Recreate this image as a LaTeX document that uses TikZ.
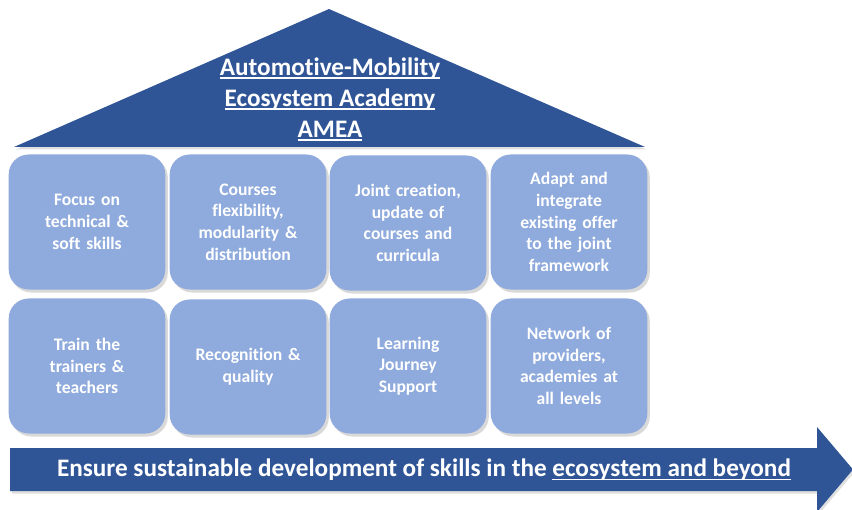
\documentclass[tikz,border=0pt]{standalone}
\usepackage{fontspec}
\setmainfont{Carlito}[Ligatures={NoCommon}]
\usetikzlibrary{shadows}
\definecolor{roofblue}{HTML}{2F5597}
\definecolor{pillarblue}{HTML}{8FAADC}
% underline set a fixed distance under the baseline
\newcommand{\uln}[1]{\setbox0\hbox{#1}\rlap{\rule[-3.5bp]{\wd0}{1.4bp}}\box0}

\begin{document}
\begin{tikzpicture}[x=1bp,y=-1bp]
        \tikzstyle{pillar}=[rectangle,rounded corners=20bp,fill=pillarblue,minimum width=153bp,minimum height=135bp,text width=150bp,align=center,text=white,font=\bfseries\fontsize{17.6bp}{21.7bp}\selectfont,drop shadow={shadow xshift=2.5bp,shadow yshift=-3bp,opacity=0.3}]
        \tikzstyle{banner}=[text=white,font=\bfseries\fontsize{25.2bp}{31bp}\selectfont,align=center]
        \tikzstyle{base}=[fill=roofblue,drop shadow={shadow xshift=1.5bp,shadow yshift=-2.5bp,opacity=0.25}]
        \useasboundingbox (0,0) rectangle (852,510);
        % roof
        \path[base] (14,147) -- (329,9) -- (645,147) -- cycle;
        \node [banner] (title) at (330,99) {\uln{Automotive-Mobility}\\\uln{Ecosystem Academy}\\\uln{AMEA}};
        % pillars, top row
        \node [pillar] (p1) at (87,222) {Focus on\\technical \&\\soft skills};
        \node [pillar] (p2) at (248,222) {Courses\\flexibility,\\modularity \&\\distribution};
        \node [pillar] (p3) at (408,223) {Joint creation,\\update of\\courses and\\curricula};
        \node [pillar] (p4) at (569,222) {Adapt and\\integrate\\existing offer\\to the joint\\framework};
        % pillars, bottom row
        \node [pillar] (p5) at (87,366) {Train the\\trainers \&\\teachers};
        \node [pillar] (p6) at (248,367) {Recognition \&\\quality};
        \node [pillar] (p7) at (408,366) {Learning\\Journey\\Support};
        \node [pillar] (p8) at (569,366) {Network of\\providers,\\academies at\\all levels};
        % ground arrow
        \path[base] (10,448) -- (817,448) -- (817,427) -- (853,469.5) -- (817,512) -- (817,491) -- (10,491) -- cycle;
        \node [banner] (goal) at (424,470) {Ensure sustainable development of skills in the \uln{ecosystem and beyond}};
\end{tikzpicture}
\end{document}
